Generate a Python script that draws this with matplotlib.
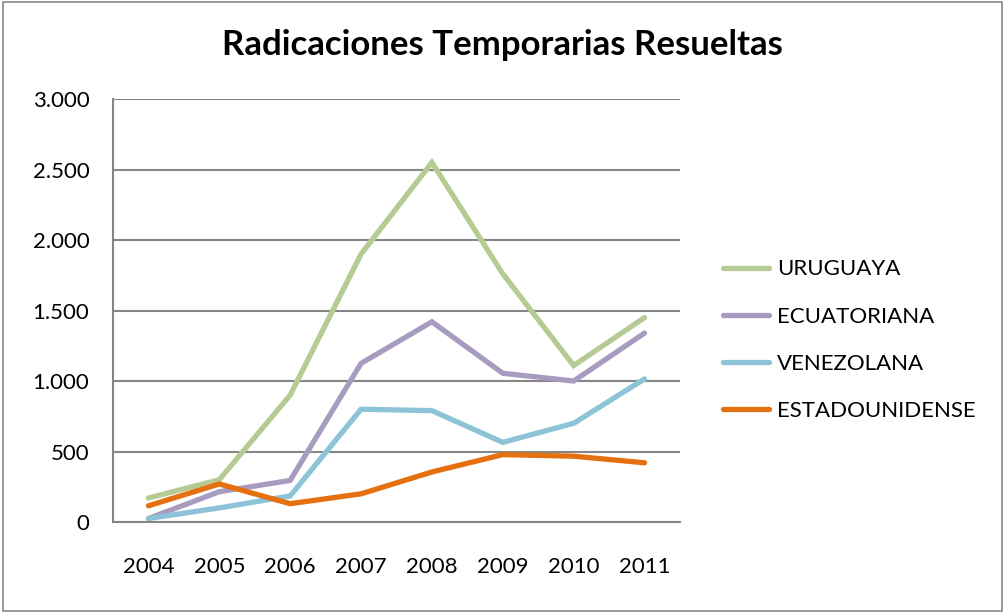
import matplotlib.pyplot as plt
from matplotlib.patches import Rectangle
from matplotlib.ticker import FuncFormatter

years = ["2004", "2005", "2006", "2007", "2008", "2009", "2010", "2011"]
uruguaya = [170, 300, 900, 1900, 2550, 1760, 1110, 1450]
ecuatoriana = [25, 215, 295, 1125, 1420, 1055, 1000, 1340]
venezolana = [25, 100, 185, 800, 790, 565, 700, 1015]
estadounidense = [115, 270, 130, 200, 355, 478, 467, 420]

series = [
    ("URUGUAYA", uruguaya, "#B5CB93"),
    ("ECUATORIANA", ecuatoriana, "#A89BC0"),
    ("VENEZOLANA", venezolana, "#8CC3D7"),
    ("ESTADOUNIDENSE", estadounidense, "#E5700F"),
]

plt.rcParams['font.family'] = ['Lato', 'DejaVu Sans']

fig = plt.figure(figsize=(10.05, 6.13), dpi=100)
ax = fig.add_axes([0.1124, 0.1484, 0.5642, 0.6901])

x = range(len(years))
for name, vals, col in series:
    ax.plot(x, vals, color=col, lw=3.8, label=name, solid_capstyle='round',
            solid_joinstyle='miter')

ax.set_xlim(-0.5, 7.5)
ax.set_ylim(0, 3000)
ax.set_yticks(range(0, 3001, 500))
ax.yaxis.set_major_formatter(FuncFormatter(lambda v, p: f"{int(v):,}".replace(",", ".")))
ax.set_xticks(list(x))
ax.set_xticklabels(years)
ax.tick_params(axis='both', length=0, labelsize=16, colors='black')
ax.tick_params(axis='y', pad=17)
ax.tick_params(axis='x', pad=25)
ax.grid(axis='y', color='#868686', lw=1.5)
ax.set_axisbelow(True)
for s in ['top', 'right']:
    ax.spines[s].set_visible(False)
for s in ['left', 'bottom']:
    ax.spines[s].set_color('#868686')
    ax.spines[s].set_linewidth(1.5)

fig.text(0.5, 0.927, "Radicaciones Temporarias Resueltas", ha='center', va='center',
         fontsize=25, fontweight='bold')

ax.legend(loc='center left', bbox_to_anchor=(1.04, 0.43), frameon=False, fontsize=16,
          handlelength=2.1, labelspacing=1.22, handletextpad=0.35)

fig.patches.append(Rectangle((0.003, 0.003), 0.994, 0.994, transform=fig.transFigure,
                             fill=False, edgecolor='#868686', lw=1.2))

fig.savefig("out.png", dpi=100)
